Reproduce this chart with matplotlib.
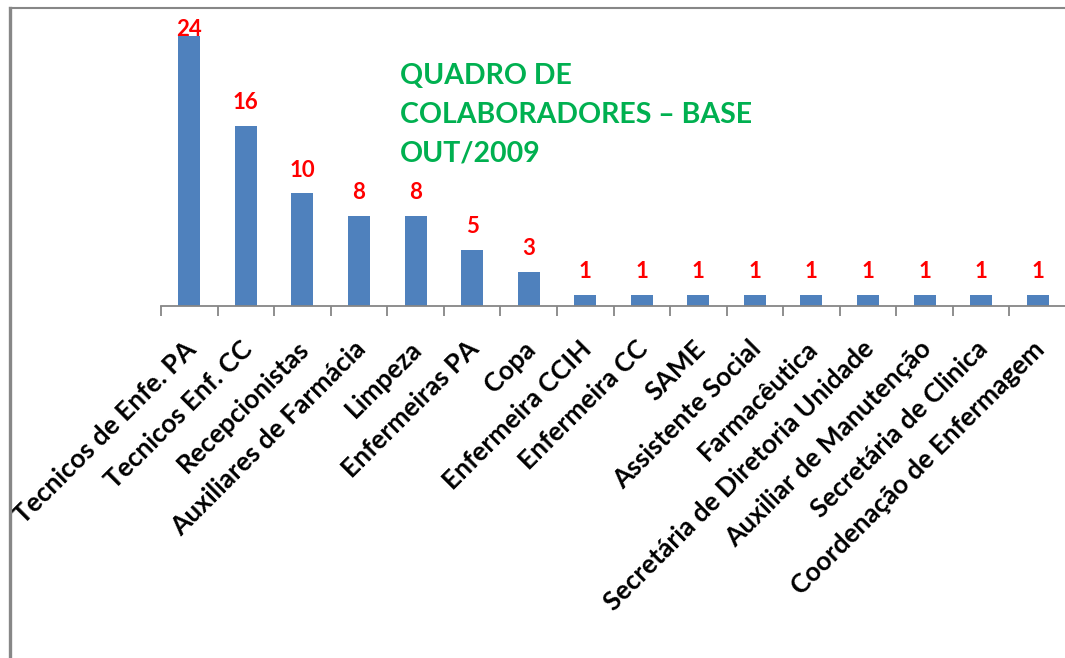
import matplotlib
matplotlib.use("Agg")
import matplotlib.pyplot as plt
from matplotlib.lines import Line2D
from matplotlib.transforms import ScaledTranslation

categories = ["Tecnicos de Enfe. PA", "Tecnicos Enf. CC", "Recepcionistas",
              "Auxiliares de Farmácia", "Limpeza", "Enfermeiras PA", "Copa",
              "Enfermeira CCIH", "Enfermeira CC", "SAME", "Assistente Social",
              "Farmacêutica", "Secretária de Diretoria Unidade",
              "Auxiliar de Manutenção", "Secretária de Clinica",
              "Coordenação de Enfermagem"]
values = [24, 16, 10, 8, 8, 5, 3, 1, 1, 1, 1, 1, 1, 1, 1, 1]
title_text = "QUADRO DE\nCOLABORADORES – BASE\nOUT/2009"

plt.rcParams['font.family'] = ['Lato', 'DejaVu Sans']
plt.rcParams['font.weight'] = 'bold'

W, H = 1065, 658
fig = plt.figure(figsize=(W / 100, H / 100), dpi=100)
ymax = 26
ax_left, ax_right = 161 / W, 1066 / W
ax_base = 1 - 306 / H
ax_h = 26 * 11.25 / H
ax = fig.add_axes([ax_left, ax_base, ax_right - ax_left, ax_h])

x = range(len(categories))
ax.bar(x, values, width=0.39, color="#4F81BD", zorder=2)
ax.set_xlim(-0.5, len(categories) - 0.5)
ax.set_ylim(0, ymax)

for xi, v in zip(x, values):
    ty = min(v + 1.5, 24.0)
    ax.text(xi, ty, str(v), ha='center', va='baseline', color='red',
            fontsize=16, fontweight='bold')

for s in ['top', 'right', 'left']:
    ax.spines[s].set_visible(False)
ax.spines['bottom'].set_color('#868686')
ax.spines['bottom'].set_linewidth(1.3)
ax.set_yticks([])

ax.set_xticks([i + 0.5 for i in range(-1, len(categories))], minor=False)
ax.set_xticklabels([])
ax.tick_params(axis='x', which='major', length=7.5, color='#868686', width=1.3,
               direction='out')
ax.set_xticks(list(x), minor=True)
ax.set_xticklabels(categories, minor=True, rotation=45, ha='right',
                   rotation_mode='anchor', fontsize=19, fontweight='bold')
ax.tick_params(axis='x', which='minor', length=0, pad=22)
shift = ScaledTranslation(-6 / 100, 0, fig.dpi_scale_trans)
for lbl in ax.get_xticklabels(minor=True):
    lbl.set_transform(lbl.get_transform() + shift)

fig.text(400 / W, 1 - 63 / H, title_text, color='#00B050', fontsize=20.5,
         fontweight='bold', ha='left', va='top', linespacing=1.6)

fig.add_artist(Line2D([9.5 / W, 9.5 / W], [0, 1 - 8 / H], color='#878787',
                      linewidth=2.4, transform=fig.transFigure))
fig.add_artist(Line2D([9.5 / W, 1], [1 - 8 / H, 1 - 8 / H], color='#878787',
                      linewidth=1.5, transform=fig.transFigure))

fig.savefig("out.png", dpi=100, facecolor='white')
